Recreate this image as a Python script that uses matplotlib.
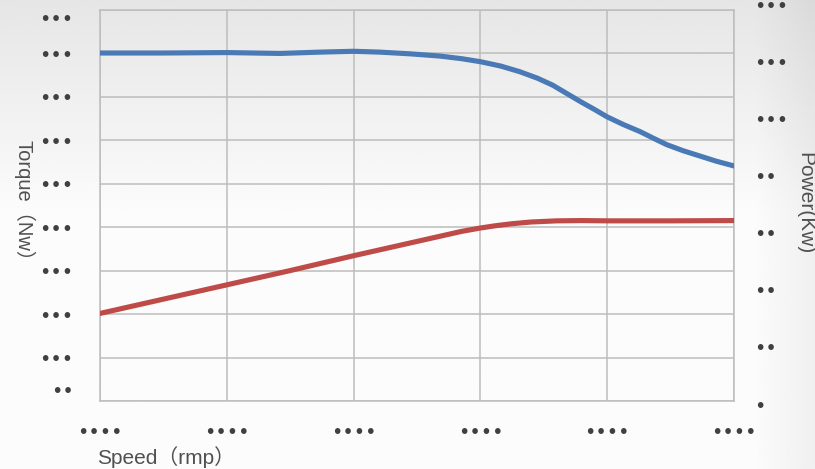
import numpy as np
from matplotlib import pyplot as plt
from matplotlib import transforms

# speed axis in grid steps, labels are masked in the source picture
speed_ticks = [0, 1, 2, 3, 4, 5]
speed_labels = ['••••'] * 6

torque_ticks = [0, 1, 2, 3, 4, 5, 6, 7, 8, 9]
torque_labels = ['••'] + ['•••'] * 9

power_ticks = [0, 1, 2, 3, 4, 5, 6, 7]
power_labels = ['•', '••', '••', '••', '••', '•••', '•••', '•••']

torque_x = [0, 0.5, 1.0, 1.42, 1.73, 2.0, 2.21, 2.45, 2.68, 2.85, 3.0, 3.16, 3.31, 3.45, 3.57, 3.68, 3.79,
            3.9, 4.0, 4.13, 4.26, 4.37, 4.47, 4.6, 4.73, 4.86, 5.0]
torque_y = [8.01, 8.01, 8.02, 8.0, 8.03, 8.05, 8.03, 7.99, 7.94, 7.88, 7.81, 7.71, 7.58, 7.43, 7.27, 7.08, 6.89,
            6.71, 6.54, 6.36, 6.2, 6.04, 5.9, 5.76, 5.64, 5.52, 5.41]

power_x = [0, 0.5, 1.0, 1.5, 2.0, 2.5, 2.7, 2.85, 3.0, 3.12, 3.25, 3.4, 3.6, 3.8, 4.0, 4.5, 5.0]
power_y = [1.62, 1.87, 2.12, 2.37, 2.63, 2.88, 2.98, 3.055, 3.115, 3.155, 3.19, 3.22, 3.24, 3.245, 3.24, 3.24, 3.245]

W, H = 815, 469
fig = plt.figure(figsize=(W / 100, H / 100), dpi=100)

# soft grey background gradient
bg = fig.add_axes([0, 0, 1, 1], zorder=-10)
yy = np.linspace(0, 1, 200)[:, None]
xx = np.linspace(0, 1, 300)[None, :]
shade = 0.9 + 0.085 * np.clip(yy / 0.45, 0, 1) - 0.045 * np.clip((xx - 0.93) / 0.07, 0, 1)
bg.imshow(shade, cmap='gray', vmin=0, vmax=1, aspect='auto', extent=[0, 1, 1, 0])
bg.axis('off')

ax = fig.add_axes([100 / W, 1 - 401 / H, 634 / W, 391 / H])
ax.patch.set_alpha(0)
ax.set_xlim(0, 5)
ax.set_ylim(0, 9)
ax.set_xticks(speed_ticks, speed_labels)
ax.set_yticks(torque_ticks, torque_labels)
ax.grid(color='#bdbdbd', linewidth=1.1)
for s in ax.spines.values():
    s.set_color('#bdbdbd')
    s.set_linewidth(1.1)
ax.tick_params(length=0, colors='#404040', labelsize=14, pad=16)
ax.tick_params(axis='y', pad=19)
ylabs = ax.get_yticklabels()
ylabs[0].set_va('bottom')
ylabs[-1].set_va('top')

ax.plot(torque_x, torque_y, color='#4a7ab5', linewidth=3.7, solid_capstyle='round',
        solid_joinstyle='round', zorder=3)

# power on a twin axis; its labels sit a bit past the plot frame
ax2 = ax.twinx()
lo = (406 - 401) / 400 * 7
hi = (406 - 10) / 400 * 7
ax2.set_ylim(lo, hi)
ax2.set_yticks([])
for s in ax2.spines.values():
    s.set_visible(False)
ax2.plot(power_x, power_y, color='#be4b48', linewidth=3.7, solid_capstyle='round',
         solid_joinstyle='round', zorder=3)
tr = transforms.blended_transform_factory(ax2.transAxes, ax2.transData)
for v, lab in zip(power_ticks, power_labels):
    ax2.text(1 + 20 / 634, v, lab, transform=tr, ha='left', va='center',
             fontsize=14, color='#404040', clip_on=False)

fam = ['Liberation Sans', 'Noto Sans CJK SC']
fig.text(97 / W, 1 - 457 / H, 'Speed（rmp）', family=fam, fontsize=15,
         color='#505050', ha='left', va='center')
fig.text(24 / W, 1 - 205 / H, 'Torque（Nw）', family=fam, fontsize=14.5,
         color='#505050', ha='center', va='center', rotation=-90)
fig.text(805 / W, 1 - 203 / H, 'Power(Kw)', family=fam, fontsize=15,
         color='#505050', ha='center', va='center', rotation=-90)

fig.savefig('out.png', dpi=100)
